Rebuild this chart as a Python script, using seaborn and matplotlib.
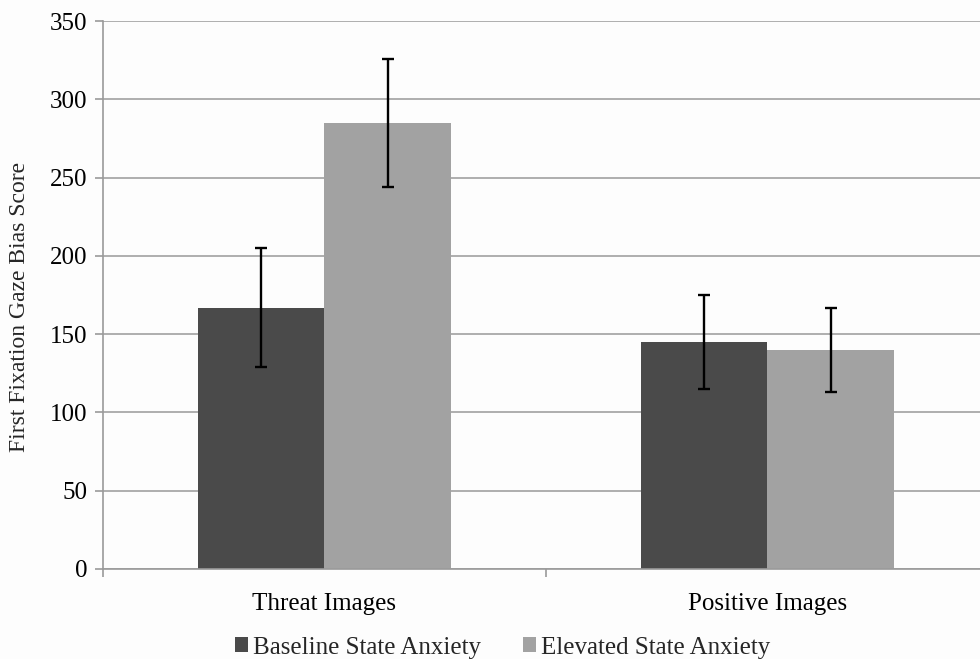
import matplotlib
matplotlib.use("Agg")
import matplotlib.pyplot as plt
import seaborn as sns
import pandas as pd
from matplotlib.patches import Patch

categories = ["Threat Images", "Positive Images"]
conditions = ["Baseline State Anxiety", "Elevated State Anxiety"]
baseline_means = [167, 145]
elevated_means = [285, 140]
baseline_err = [38, 30]
elevated_err = [41, 27]
y_ticks = [0, 50, 100, 150, 200, 250, 300, 350]

colors = {"Baseline State Anxiety": "#4a4a4a", "Elevated State Anxiety": "#a2a2a2"}

df = pd.DataFrame({
    "category": categories * 2,
    "condition": [conditions[0]] * 2 + [conditions[1]] * 2,
    "score": baseline_means + elevated_means,
    "err": baseline_err + elevated_err,
})

sns.set_theme(style="white")
plt.rcParams["font.family"] = ["Liberation Serif", "DejaVu Serif"]

fig = plt.figure(figsize=(9.8, 6.59), dpi=100, facecolor="#fdfdfd")
ax = fig.add_axes([0.105, 0.1366, 0.904, 0.8314])
ax.set_facecolor("#fdfdfd")

sns.barplot(data=df, x="category", y="score", hue="condition", order=categories,
            hue_order=conditions, palette=colors, width=0.571, errorbar=None,
            saturation=1, ax=ax, legend=False, linewidth=0)

# error bars centred on each drawn bar
for cond_i, cond in enumerate(conditions):
    sub = df[df["condition"] == cond].set_index("category").loc[categories]
    bars = ax.containers[cond_i]
    xs = [b.get_x() + b.get_width() / 2 for b in bars]
    ax.errorbar(xs, sub["score"].values, yerr=sub["err"].values, fmt="none",
                ecolor="black", elinewidth=1.7, capsize=4, capthick=1.7, zorder=5)

ax.set_ylim(0, 350)
ax.set_xlim(-0.5, 1.5)
ax.set_yticks(y_ticks)
ax.yaxis.grid(True, color="#a8a8a8", linewidth=1.3)
ax.set_axisbelow(True)
for s in ["top", "right"]:
    ax.spines[s].set_visible(False)
for s in ["left", "bottom"]:
    ax.spines[s].set_color("#9a9a9a")
    ax.spines[s].set_linewidth(1.2)

ax.tick_params(axis="y", which="major", left=True, length=6, color="#9a9a9a",
               width=1.2, labelsize=18, pad=5, labelcolor="black")
ax.tick_params(axis="x", which="major", bottom=False, labelsize=18, pad=11,
               labelcolor="black")
ax.set_xticks([-0.5, 0.5, 1.5], minor=True)
ax.tick_params(axis="x", which="minor", bottom=True, length=6, color="#9a9a9a", width=1.2)

ax.set_xlabel("")
ax.set_ylabel("First Fixation Gaze Bias Score", fontsize=17)
ax.yaxis.set_label_coords(-0.082, 0.478)

handles = [Patch(facecolor=colors[c], edgecolor="none", label=c) for c in conditions]
fig.legend(handles=handles, loc="center", bbox_to_anchor=(0.513, 0.017), ncol=2,
           frameon=False, fontsize=18, handlelength=0.55, handleheight=0.55,
           handletextpad=0.2, columnspacing=1.65)

fig.savefig("out.png", dpi=100, facecolor=fig.get_facecolor())
